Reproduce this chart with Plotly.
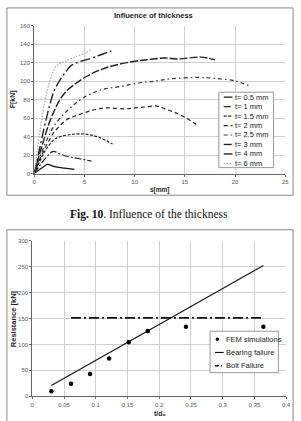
import plotly.graph_objects as go

# ---------------- data: top chart (s [mm], F [kN]) ----------------
thickness_labels = ["t= 0.5 mm", "t= 1 mm", "t= 1.5 mm", "t= 2 mm",
                    "t= 2.5 mm", "t= 3 mm", "t= 4 mm", "t= 6 mm"]

s_t05 = [0, 0.5, 1.0, 1.3, 2.0, 3.0, 4.0]
F_t05 = [0, 4, 8, 10, 7.5, 5.8, 4.5]

s_t1 = [0, 0.5, 1.0, 1.5, 1.9, 2.6, 3.5, 4.5, 5.7]
F_t1 = [0, 8, 15, 21, 24, 21, 18, 16, 13.5]

s_t15 = [0, 0.5, 1.0, 1.5, 2.0, 2.6, 3.5, 4.5, 5.5, 6.5, 7.8]
F_t15 = [0, 12, 23, 31, 37, 40, 42, 43, 42, 39, 32]

s_t2 = [0, 0.5, 1.0, 1.5, 2.0, 3.2, 4.0, 5.2, 6.0, 7.1, 9.0, 10.0, 11.0, 12.2, 13.0, 14.0, 15.0, 16.3]
F_t2 = [0, 14, 26, 36, 45, 58, 62, 66.5, 69, 71, 70, 71, 72, 73, 70, 66, 61, 52]

s_t25 = [0, 0.5, 1.0, 1.5, 2.0, 3.0, 4.0, 4.9, 6.0, 6.8, 8.5, 10.4, 12.0, 13.6, 16.2, 18.0, 20.1, 21.6]
F_t25 = [0, 16, 30, 42, 52, 65, 75, 82, 88, 91, 94, 98, 100, 102.5, 104, 103, 100, 94]

s_t3 = [0, 0.5, 1.0, 1.5, 2.0, 2.5, 3.2, 4.2, 5.2, 6.3, 7.5, 9.7, 11.5, 13.0, 14.3, 16.6, 18.0]
F_t3 = [0, 20, 38, 55, 68, 79, 89, 98, 105, 111, 115.6, 121, 123.5, 125, 124, 126, 123]

s_t4 = [0, 0.5, 1.0, 1.5, 2.0, 2.5, 3.0, 3.7, 4.5, 5.5, 6.5, 7.5, 8.0]
F_t4 = [0, 25, 50, 72, 90, 100, 108, 117, 121, 124, 128, 132, 134]

s_t6 = [0, 0.3, 0.7, 1.2, 1.7, 2.2, 3.0, 4.0, 5.0, 5.6]
F_t6 = [0, 25, 55, 85, 105, 116, 121, 126, 130, 134]

s_series = [s_t05, s_t1, s_t15, s_t2, s_t25, s_t3, s_t4, s_t6]
F_series = [F_t05, F_t1, F_t15, F_t2, F_t25, F_t3, F_t4, F_t6]

# ---------------- data: bottom chart (t/d0, Resistance [kN]) ----------------
fem_x = [0.030, 0.061, 0.091, 0.121, 0.152, 0.182, 0.242, 0.364]
fem_y = [10, 24, 43, 73, 104, 126, 134, 134]

bearing_x = [0.030, 0.364]
bearing_y = [21, 252]

bolt_x = [0.061, 0.364]
bolt_y = [151, 151]

bottom_labels = ["FEM simulations", "Bearing failure", "Bolt Failure"]

top_title = "Influence of thickness"
top_xlabel = "s[mm]"
top_ylabel = "F[kN]"
bottom_xlabel = "t/d\u2080"
bottom_ylabel = "Resistance [kN]"
caption = "<b>Fig. 10</b>. Influence of the thickness"

# ---------------- styles ----------------
W, H = 301, 421
FONT = "Liberation Sans, Arial, sans-serif"
line_styles = [
    dict(color="#111111", width=1.2, dash="solid"),
    dict(color="#222222", width=1.2, dash="7px,2px,2px,2px"),
    dict(color="#222222", width=1.2, dash="3px,1.5px"),
    dict(color="#222222", width=1.2, dash="4px,3px"),
    dict(color="#333333", width=1.2, dash="4px,3px,1.5px,3px"),
    dict(color="#222222", width=1.4, dash="8px,2px"),
    dict(color="#222222", width=1.4, dash="10px,3px,2px,3px"),
    dict(color="#aaaaaa", width=1.2, dash="1.5px,1.5px"),
]


def px(x):
    return x / W


def py(y):
    return 1 - y / H


fig = go.Figure()

for lab, xs, ys, st in zip(thickness_labels, s_series, F_series, line_styles):
    fig.add_trace(go.Scatter(x=xs, y=ys, mode="lines", name=lab, line=st,
                             xaxis="x", yaxis="y", showlegend=False,
                             line_shape="spline"))

fig.add_trace(go.Scatter(x=bearing_x, y=bearing_y, mode="lines", name=bottom_labels[1],
                         line=dict(color="#111111", width=1.1),
                         xaxis="x2", yaxis="y2", showlegend=False))
fig.add_trace(go.Scatter(x=bolt_x, y=bolt_y, mode="lines", name=bottom_labels[2],
                         line=dict(color="#111111", width=1.6, dash="10px,3px,2px,3px"),
                         xaxis="x2", yaxis="y2", showlegend=False))
fig.add_trace(go.Scatter(x=fem_x, y=fem_y, mode="markers", name=bottom_labels[0],
                         marker=dict(color="#000000", size=4.5),
                         xaxis="x2", yaxis="y2", showlegend=False))

axis_common = dict(showline=True, linecolor="#666666", linewidth=1, mirror=False,
                   showgrid=True, gridcolor="#cfcfcf", gridwidth=1, zeroline=False,
                   ticks="outside", ticklen=2, tickcolor="#666666",
                   tickfont=dict(family=FONT, size=6, color="#555555"), fixedrange=True)

fig.update_layout(
    width=W, height=H,
    margin=dict(l=0, r=0, t=0, b=0),
    paper_bgcolor="white", plot_bgcolor="white",
    showlegend=False,
    xaxis=dict(domain=[px(33), px(290)], range=[0, 25], dtick=5, anchor="y", **axis_common),
    yaxis=dict(domain=[py(173), py(23)], range=[0, 160], dtick=20, anchor="x", **axis_common),
    xaxis2=dict(domain=[px(31), px(291)], range=[0, 0.4], dtick=0.05, anchor="y2",
                tickformat="~g", **axis_common),
    yaxis2=dict(domain=[py(399), py(241)], range=[0, 300], dtick=50, anchor="x2", **axis_common),
)

shapes = []
annotations = []

# outer frames
shapes.append(dict(type="rect", xref="paper", yref="paper", x0=px(5), x1=px(298),
                   y0=py(195), y1=py(5), line=dict(color="#888888", width=1)))
shapes.append(dict(type="rect", xref="paper", yref="paper", x0=px(5), x1=px(298),
                   y0=py(425), y1=py(230), line=dict(color="#888888", width=1)))

# texts
def ann(text, x, y, size, bold=False, angle=0, family=FONT, color="#222222", xanchor="center"):
    annotations.append(dict(text=("<b>%s</b>" % text) if bold else text,
                            xref="paper", yref="paper", x=px(x), y=py(y),
                            xanchor=xanchor, yanchor="middle", showarrow=False,
                            textangle=angle, font=dict(family=family, size=size, color=color)))

ann(top_title, 155, 13, 7.5, bold=True)
ann(top_xlabel, 162, 190, 6.5, bold=True)
ann(top_ylabel, 11, 98, 7, bold=True, angle=-90)
ann(bottom_xlabel, 162, 416, 7, bold=True)
ann(bottom_ylabel, 12, 320, 7.5, bold=True, angle=-90)
ann(caption, 151, 215, 11.5, family="Liberation Serif, Times New Roman, serif", color="#111111")

# top legend (drawn in paper space)
shapes.append(dict(type="rect", xref="paper", yref="paper", x0=px(222), x1=px(278),
                   y0=py(167), y1=py(90.5), line=dict(color="#999999", width=1),
                   fillcolor="white", layer="above"))
for i, (lab, st) in enumerate(zip(thickness_labels, line_styles)):
    yy = 95.5 + i * 9.6
    shapes.append(dict(type="line", xref="paper", yref="paper", x0=px(227), x1=px(236),
                       y0=py(yy), y1=py(yy), line=st, layer="above"))
    ann(lab, 236.5, yy, 7.5, xanchor="left")

# bottom legend
shapes.append(dict(type="rect", xref="paper", yref="paper", x0=px(213), x1=px(283),
                   y0=py(375), y1=py(333), line=dict(color="#999999", width=1),
                   fillcolor="white", layer="above"))
bl_y = [341, 354.5, 368]
annotations_marker_y = bl_y[0]
shapes.append(dict(type="circle", xref="paper", yref="paper",
                   x0=px(218.8), x1=px(222.2), y0=py(bl_y[0] + 1.7), y1=py(bl_y[0] - 1.7),
                   fillcolor="black", line=dict(color="black", width=0), layer="above"))
shapes.append(dict(type="line", xref="paper", yref="paper", x0=px(218), x1=px(227),
                   y0=py(bl_y[1]), y1=py(bl_y[1]), line=dict(color="#111111", width=1.1),
                   layer="above"))
shapes.append(dict(type="line", xref="paper", yref="paper", x0=px(218), x1=px(227),
                   y0=py(bl_y[2]), y1=py(bl_y[2]),
                   line=dict(color="#111111", width=1.4, dash="4px,2px,1px,2px"), layer="above"))
for lab, yy in zip(bottom_labels, bl_y):
    ann(lab, 227.5, yy, 7.5, xanchor="left")

fig.update_layout(shapes=shapes, annotations=annotations)
fig.write_html("out.html")
